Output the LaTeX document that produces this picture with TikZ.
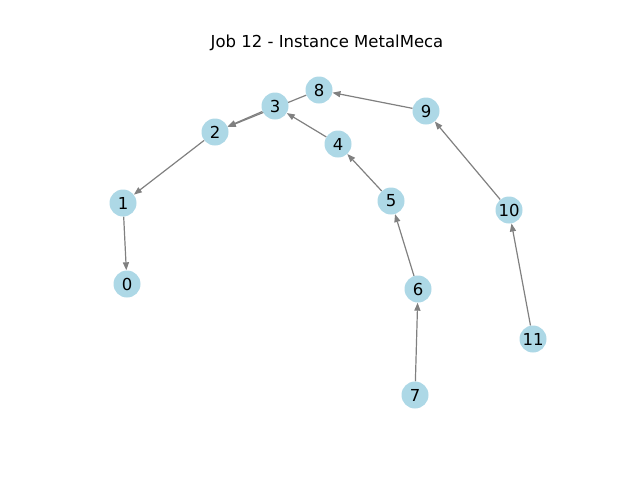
\documentclass[tikz,border=0pt]{standalone}
\usepackage{fontspec}
\setmainfont{DejaVu Sans}
\usetikzlibrary{arrows.meta,backgrounds}
\definecolor{nodeblue}{HTML}{ADD8E6}
\definecolor{edgegray}{HTML}{808080}
\begin{document}
\begin{tikzpicture}[x=1pt,y=-1pt,
  vtx/.style={circle,fill=nodeblue,draw=none,minimum size=27pt,inner sep=0pt,font=\fontsize{16.5}{18}\selectfont},
  arc/.style={draw=edgegray,line width=1.2pt,-{Triangle[length=8pt,width=6pt]}}]
\useasboundingbox (0,0) rectangle (640,480);
\node[font=\fontsize{16.5}{18}\selectfont] (title) at (327,43) {Job 12 - Instance MetalMeca};
\node[vtx] (n8) at (319,90) {8};
\node[vtx] (n3) at (275,106) {3};
\node[vtx] (n2) at (215,132) {2};
\node[vtx] (n9) at (426,111) {9};
\node[vtx] (n4) at (338,144) {4};
\node[vtx] (n1) at (123,203) {1};
\node[vtx] (n5) at (391,201) {5};
\node[vtx] (n10) at (509,210) {10};
\node[vtx] (n0) at (127,284) {0};
\node[vtx] (n6) at (418,289) {6};
\node[vtx] (n11) at (533,339) {11};
\node[vtx] (n7) at (415,395) {7};
\begin{scope}[on background layer]
\draw[arc] (n11) -- (n10);
\draw[arc] (n10) -- (n9);
\draw[arc] (n9) -- (n8);
\draw[arc] (n8) -- (n2);
\draw[arc] (n3) -- (n2);
\draw[arc] (n4) -- (n3);
\draw[arc] (n5) -- (n4);
\draw[arc] (n6) -- (n5);
\draw[arc] (n7) -- (n6);
\draw[arc] (n2) -- (n1);
\draw[arc] (n1) -- (n0);
\end{scope}
\end{tikzpicture}
\end{document}
